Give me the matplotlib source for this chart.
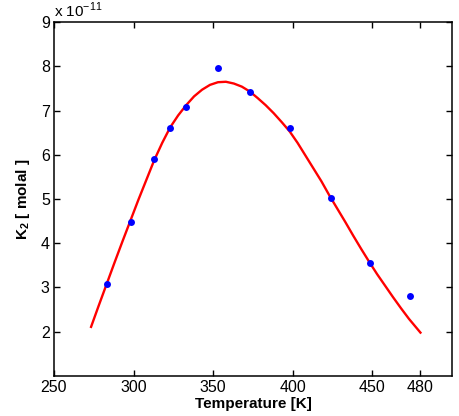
import matplotlib
matplotlib.use("Agg")
import matplotlib.pyplot as plt

# Measured data (K2 in units of 1e-11 molal)
temp_data = [283.1, 298.4, 313.0, 323.1, 333.2, 353.3, 373.4, 398.3, 423.7, 448.6, 473.8]
k2_data = [3.09, 4.47, 5.90, 6.61, 7.09, 7.96, 7.43, 6.61, 5.02, 3.55, 2.81]

# Fitted curve
temp_fit = [273.3, 278, 283, 288, 293, 298, 303, 308, 313, 318, 323, 328, 333, 338,
            343, 348, 353, 358, 363, 368, 373, 378, 383, 388, 393, 398, 403, 408,
            413, 418, 423, 428, 433, 438, 443, 448, 453, 458, 463, 468, 473, 480.2]
k2_fit = [2.11, 2.58, 3.07, 3.56, 4.04, 4.51, 4.98, 5.43, 5.88, 6.27, 6.62, 6.89, 7.12, 7.32,
          7.47, 7.58, 7.64, 7.65, 7.61, 7.54, 7.43, 7.28, 7.12, 6.94, 6.74, 6.53, 6.27, 5.98,
          5.69, 5.40, 5.08, 4.78, 4.48, 4.17, 3.87, 3.58, 3.30, 3.04, 2.78, 2.53, 2.29, 1.98]

x_ticks = [250, 300, 350, 400, 450, 480]
y_ticks = [2, 3, 4, 5, 6, 7, 8, 9]

plt.rcParams['font.family'] = ['Liberation Sans', 'DejaVu Sans']
plt.rcParams['mathtext.fontset'] = 'custom'
plt.rcParams['mathtext.rm'] = 'Liberation Sans'
plt.rcParams['mathtext.bf'] = 'Liberation Sans:bold'

fig = plt.figure(figsize=(4.59, 4.16), dpi=100)
ax = fig.add_axes([0.1176, 0.0962, 0.8671, 0.8508])

ax.plot(temp_fit, k2_fit, color='red', lw=1.7, solid_joinstyle='round')
ax.plot(temp_data, k2_data, 'o', color='blue', markersize=5, markeredgewidth=0)

ax.set_xlim(250, 500)
ax.set_ylim(1, 9)
ax.set_xticks(x_ticks)
ax.set_yticks(y_ticks)
ax.tick_params(direction='in', length=4, width=1, top=True, right=True, labelsize=11.5, pad=3)
for s in ax.spines.values():
    s.set_linewidth(1.1)

ax.set_xlabel("Temperature [K]", fontsize=11, fontweight='bold', labelpad=1)
ax.set_ylabel("K$_\\mathbf{2}$ [ molal ]", fontsize=11, fontweight='bold', labelpad=6)

# exponent label like MATLAB
ax.text(0.0, 1.005, "x 10$^{-11}$", transform=ax.transAxes, fontsize=11,
        ha='left', va='bottom')

fig.savefig("out.png", dpi=100)
